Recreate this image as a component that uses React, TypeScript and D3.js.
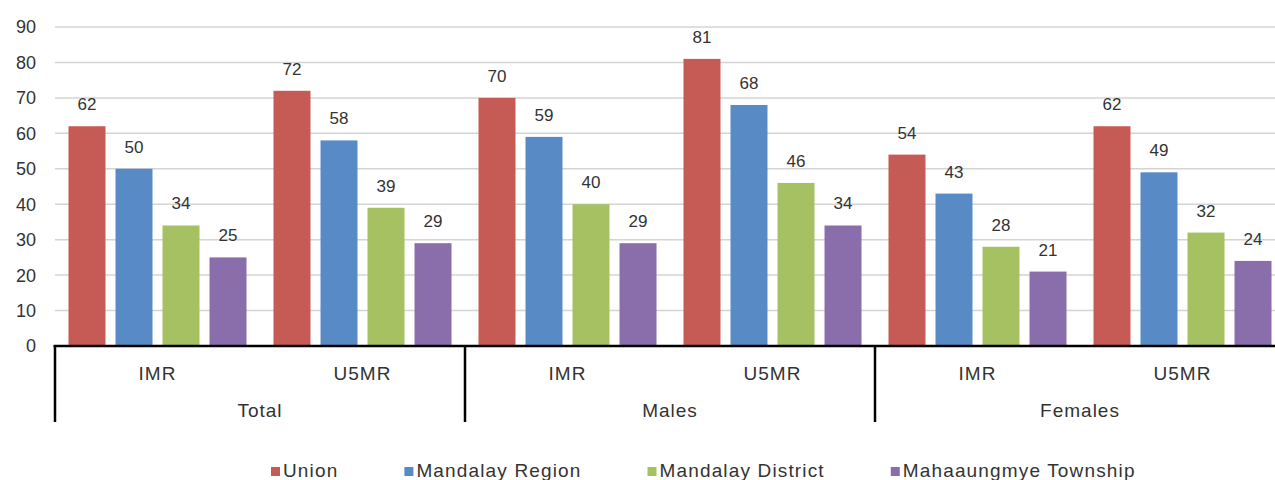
import React from "react";
import * as d3 from "d3";

const groups = ["Total", "Males", "Females"];
const measures = ["IMR", "U5MR"];
const seriesNames = ["Union", "Mandalay Region", "Mandalay District", "Mahaaungmye Township"];
const seriesColors = ["#C65A55", "#588BC6", "#A5C162", "#8A6DAB"];
// values per category (group-measure), order: Union, Mandalay Region, Mandalay District, Mahaaungmye Township
const totalIMR = [62, 50, 34, 25];
const totalU5MR = [72, 58, 39, 29];
const malesIMR = [70, 59, 40, 29];
const malesU5MR = [81, 68, 46, 34];
const femalesIMR = [54, 43, 28, 21];
const femalesU5MR = [62, 49, 32, 24];
const yTicks = [0, 10, 20, 30, 40, 50, 60, 70, 80, 90];

const categoryValues = [totalIMR, totalU5MR, malesIMR, malesU5MR, femalesIMR, femalesU5MR];

const W = 1275;
const H = 480;
const FONT = '"Liberation Sans", Arial, sans-serif';
const TEXT = "#333333";

function measure(text: string, size: number, spacing: number) {
  const c = document.createElement("canvas").getContext("2d");
  if (!c) return text.length * size * 0.55;
  c.font = `${size}px "Liberation Sans"`;
  return c.measureText(text).width + spacing * text.length;
}

export default function App() {
  const left = 55;
  const right = 1285;
  const y = d3.scaleLinear().domain([0, 90]).range([346, 27]);
  const cats = groups.flatMap((g) => measures.map((m) => `${g}|${m}`));
  const x0 = d3.scaleBand<string>().domain(cats).range([left, right]).padding(0);
  const xg = d3.scaleBand<string>().domain(groups).range([left, right]).padding(0);
  const x1 = d3
    .scaleBand<string>()
    .domain(seriesNames)
    .range([0, x0.bandwidth()])
    .paddingInner(0.213)
    .paddingOuter(0.287);

  // legend layout
  const legSize = 19;
  const legSpacing = 1.15;
  let lx = 271;
  const legendItems = seriesNames.map((name, i) => {
    const item = { name, color: seriesColors[i], x: lx };
    lx += 9 + 3 + measure(name, legSize, legSpacing) + 66;
    return item;
  });

  const y0 = y(0);

  return (
    <svg
      width={W}
      height={H}
      style={{ position: "absolute", left: 0, top: 0, background: "#fff" }}
      fontFamily={FONT}
    >
      {/* gridlines */}
      {yTicks.filter((t) => t > 0).map((t) => (
        <line key={t} x1={left} x2={W} y1={y(t)} y2={y(t)} stroke="#d4d4d4" strokeWidth={1.5} />
      ))}
      {/* y tick labels */}
      {yTicks.map((t) => (
        <text key={t} x={36} y={y(t)} dy="0.36em" textAnchor="end" fontSize={18} fill={TEXT}>
          {t}
        </text>
      ))}
      {/* bars */}
      {cats.map((c, ci) => (
        <g key={c} transform={`translate(${x0(c)},0)`}>
          {seriesNames.map((s, si) => {
            const v = categoryValues[ci][si];
            const bx = x1(s)!;
            return (
              <g key={s}>
                <rect
                  x={bx}
                  y={y(v)}
                  width={x1.bandwidth()}
                  height={y0 - y(v)}
                  fill={seriesColors[si]}
                />
                <text
                  x={bx + x1.bandwidth() / 2}
                  y={y(v) - 16}
                  textAnchor="middle"
                  fontSize={17}
                  fill={TEXT}
                >
                  {v}
                </text>
              </g>
            );
          })}
        </g>
      ))}
      {/* axis line */}
      <line x1={left - 1.5} x2={W} y1={y0} y2={y0} stroke="#000" strokeWidth={2.5} />
      {/* group separators */}
      {[...groups.map((g) => xg(g)!), right].map((gx, i) => (
        <line key={i} x1={gx} x2={gx} y1={y0} y2={422} stroke="#000" strokeWidth={2.5} />
      ))}
      {/* measure labels */}
      {cats.map((c) => (
        <text
          key={c}
          x={x0(c)! + x0.bandwidth() / 2}
          y={380}
          textAnchor="middle"
          fontSize={19}
          letterSpacing={1}
          fill={TEXT}
        >
          {c.split("|")[1]}
        </text>
      ))}
      {/* group labels */}
      {groups.map((g) => (
        <text
          key={g}
          x={xg(g)! + xg.bandwidth() / 2}
          y={417}
          textAnchor="middle"
          fontSize={19}
          letterSpacing={1}
          fill={TEXT}
        >
          {g}
        </text>
      ))}
      {/* legend */}
      {legendItems.map((it) => (
        <g key={it.name}>
          <rect x={it.x} y={467} width={9} height={9} fill={it.color} />
          <text x={it.x + 12} y={477} fontSize={legSize} letterSpacing={legSpacing} fill={TEXT}>
            {it.name}
          </text>
        </g>
      ))}
    </svg>
  );
}
